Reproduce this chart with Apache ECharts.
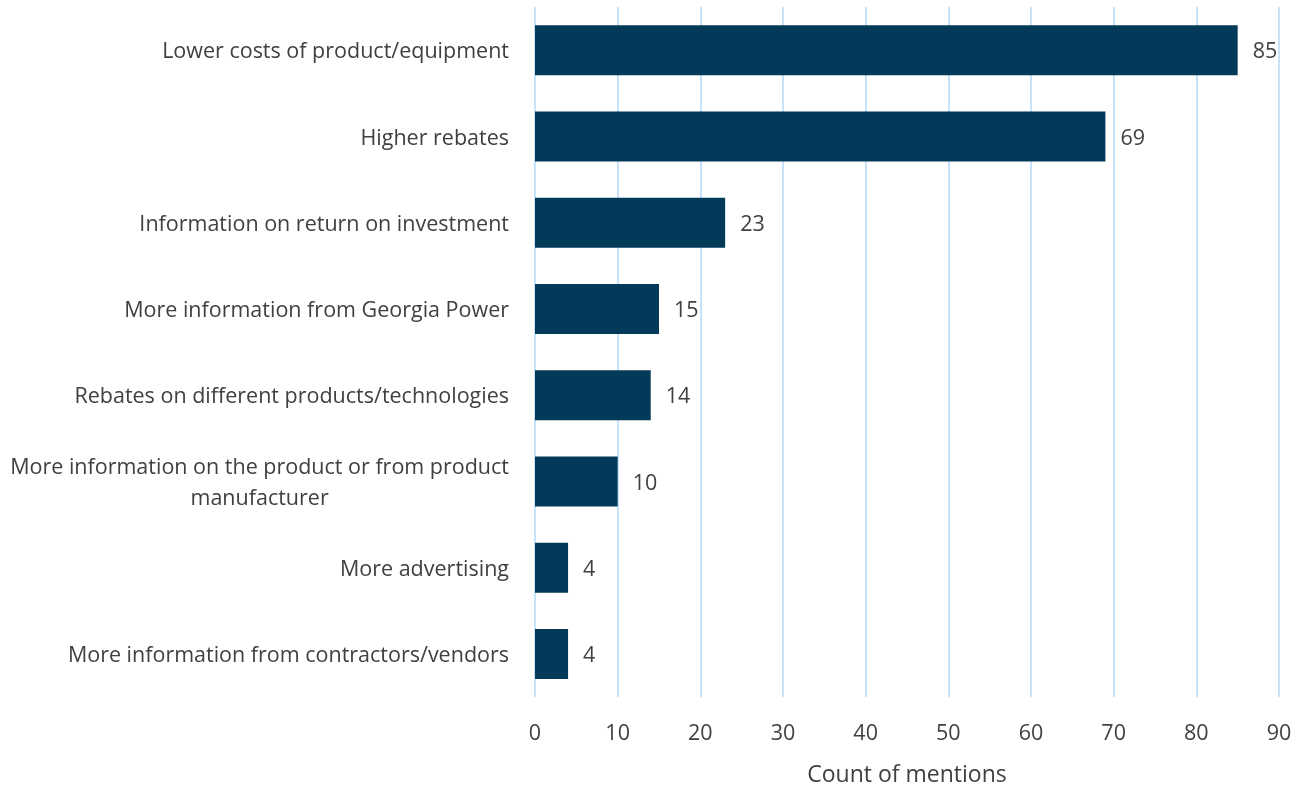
<!DOCTYPE html>
<html><head><meta charset="utf-8">
<script src="https://cdn.jsdelivr.net/npm/echarts@6/dist/echarts.min.js"></script>
<style>html,body{margin:0;padding:0;background:#fff}#c{width:1304px;height:792px}</style>
</head><body><div id="c"></div>
<script>
const categories = [
  "Lower costs of product/equipment",
  "Higher rebates",
  "Information on return on investment",
  "More information from Georgia Power",
  "Rebates on different products/technologies",
  "More information on the product or from product\nmanufacturer",
  "More advertising",
  "More information from contractors/vendors"
];
const counts = [85, 69, 23, 15, 14, 10, 4, 4];
const axisName = "Count of mentions";

const chart = echarts.init(document.getElementById('c'));
const font = "'Open Sans', 'Noto Sans', sans-serif";
const fs = 21.5;
chart.setOption({
  animation: false,
  grid: {left: 535, right: 25, top: 7, bottom: 92, containLabel: false},
  xAxis: {
    type: 'value', min: 0, max: 90, interval: 10,
    axisLine: {show: false}, axisTick: {show: false},
    splitLine: {show: true, lineStyle: {color: '#C5E3FA', width: 2}},
    axisLabel: {color: '#404040', fontSize: fs, fontFamily: font, margin: 26},
    name: axisName, nameLocation: 'middle', nameGap: 67,
    nameTextStyle: {color: '#404040', fontSize: 23, fontFamily: font}
  },
  yAxis: {
    type: 'category', data: categories, inverse: true,
    axisLine: {show: false}, axisTick: {show: false}, splitLine: {show: false},
    axisLabel: {
      color: '#404040', fontSize: fs, fontFamily: font, margin: 26, lineHeight: 31,
      padding: [4, 0, 0, 0],
      formatter: function (v) {
        if (v.indexOf('\n') >= 0) {
          return v.split('\n').map(s => '{c|' + s + '}').join('\n');
        }
        return v;
      },
      rich: {c: {align: 'center', fontSize: fs, fontFamily: font, color: '#404040', lineHeight: 31}}
    }
  },
  series: [{
    type: 'bar', data: counts, barWidth: 50,
    itemStyle: {color: '#033A5A'},
    label: {show: true, position: 'right', distance: 15, offset: [0, 2], color: '#404040', fontSize: fs, fontFamily: font}
  }]
});
</script></body></html>
